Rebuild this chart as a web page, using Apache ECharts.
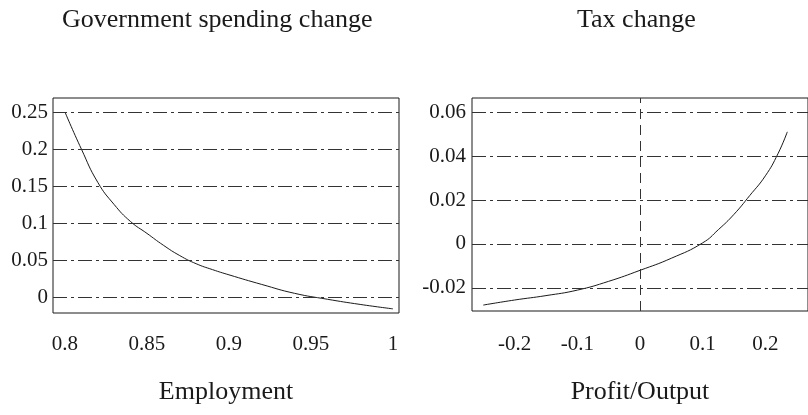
<!DOCTYPE html>
<html>
<head>
<meta charset="utf-8">
<script src="https://cdn.jsdelivr.net/npm/echarts@6/dist/echarts.min.js"></script>
<style>
  html, body { margin: 0; padding: 0; background: #fff; }
  #chart { width: 808px; height: 415px; }
</style>
</head>
<body>
<div id="chart"></div>
<script>
// left panel: government spending change vs employment
var employment = [0.80, 0.81, 0.82, 0.83, 0.84, 0.85, 0.86, 0.87, 0.88, 0.89, 0.90, 0.92, 0.94, 0.96, 0.98, 1.00];
var spendingChange = [0.25, 0.20, 0.155, 0.125, 0.102, 0.086, 0.070, 0.056, 0.045, 0.037, 0.030, 0.017, 0.005, -0.003, -0.010, -0.016];
var employmentTicks = [0.8, 0.85, 0.9, 0.95, 1];
var spendingTicks = [0, 0.05, 0.1, 0.15, 0.2, 0.25];

// right panel: tax change vs profit/output
var profitOutput = [-0.25, -0.2, -0.15, -0.1, -0.05, 0, 0.05, 0.1, 0.125, 0.15, 0.175, 0.2, 0.22, 0.235];
var taxChange = [-0.0278, -0.0255, -0.0235, -0.021, -0.017, -0.012, -0.0065, 0.0005, 0.0065, 0.0135, 0.022, 0.031, 0.041, 0.051];
var profitTicks = [-0.2, -0.1, 0, 0.1, 0.2];
var taxTicks = [-0.02, 0, 0.02, 0.04, 0.06];

var font = 'Liberation Serif';
var ink = '#1a1a1a';
var dashDot = [14, 4, 3, 4];

function pairs(xs, ys) {
    var out = [];
    for (var i = 0; i < xs.length; i++) out.push([xs[i], ys[i]]);
    return out;
}

function gridLines(vals) {
    return vals.map(function (v) { return {yAxis: v}; });
}

var chart = echarts.init(document.getElementById('chart'));

var option = {
    animation: false,
    backgroundColor: '#fff',
    grid: [
        {left: 53, top: 98, width: 346, height: 215, show: true, borderColor: ink, borderWidth: 1},
        {left: 472, top: 98, width: 340, height: 213, show: true, borderColor: ink, borderWidth: 1}
    ],
    xAxis: [
        {
            type: 'value', gridIndex: 0, min: 0.7927, max: 1.0037,
            name: 'Employment', nameLocation: 'middle', nameGap: 66,
            nameTextStyle: {fontFamily: font, fontSize: 26, color: ink},
            axisLine: {show: false}, axisTick: {show: false}, splitLine: {show: false},
            axisLabel: {customValues: employmentTicks, fontFamily: font, fontSize: 21, color: ink, margin: 21}
        },
        {
            type: 'value', gridIndex: 1, min: -0.268, max: 0.268,
            name: 'Profit/Output', nameLocation: 'middle', nameGap: 68,
            nameTextStyle: {fontFamily: font, fontSize: 26, color: ink},
            axisLine: {show: false}, axisTick: {show: false}, splitLine: {show: false},
            axisLabel: {customValues: profitTicks, fontFamily: font, fontSize: 21, color: ink, margin: 23}
        }
    ],
    yAxis: [
        {
            type: 'value', gridIndex: 0, min: -0.0216, max: 0.269,
            axisLine: {show: false}, axisTick: {show: false}, splitLine: {show: false},
            axisLabel: {customValues: spendingTicks, fontFamily: font, fontSize: 21, color: ink, margin: 5}
        },
        {
            type: 'value', gridIndex: 1, min: -0.0305, max: 0.0664,
            axisLine: {show: false}, axisTick: {show: false}, splitLine: {show: false},
            axisLabel: {customValues: taxTicks, fontFamily: font, fontSize: 21, color: ink, margin: 6}
        }
    ],
    graphic: [
        {type: 'text', left: 62, top: 7, style: {text: 'Government spending change', font: '26px "Liberation Serif"', fill: ink}},
        {type: 'text', left: 577, top: 7, style: {text: 'Tax change', font: '26px "Liberation Serif"', fill: ink}}
    ],
    series: [
        {
            type: 'line', xAxisIndex: 0, yAxisIndex: 0, smooth: true, symbol: 'none',
            data: pairs(employment, spendingChange),
            lineStyle: {color: ink, width: 1},
            markLine: {
                silent: true, symbol: 'none', label: {show: false},
                lineStyle: {color: '#333', width: 1, type: dashDot},
                data: gridLines(spendingTicks)
            }
        },
        {
            type: 'line', xAxisIndex: 1, yAxisIndex: 1, smooth: true, symbol: 'none',
            data: pairs(profitOutput, taxChange),
            lineStyle: {color: ink, width: 1},
            markLine: {
                silent: true, symbol: 'none', label: {show: false},
                lineStyle: {color: '#333', width: 1, type: dashDot},
                data: gridLines(taxTicks).concat([{xAxis: 0, lineStyle: {type: [10, 6]}}])
            }
        }
    ]
};

chart.setOption(option);
</script>
</body>
</html>
